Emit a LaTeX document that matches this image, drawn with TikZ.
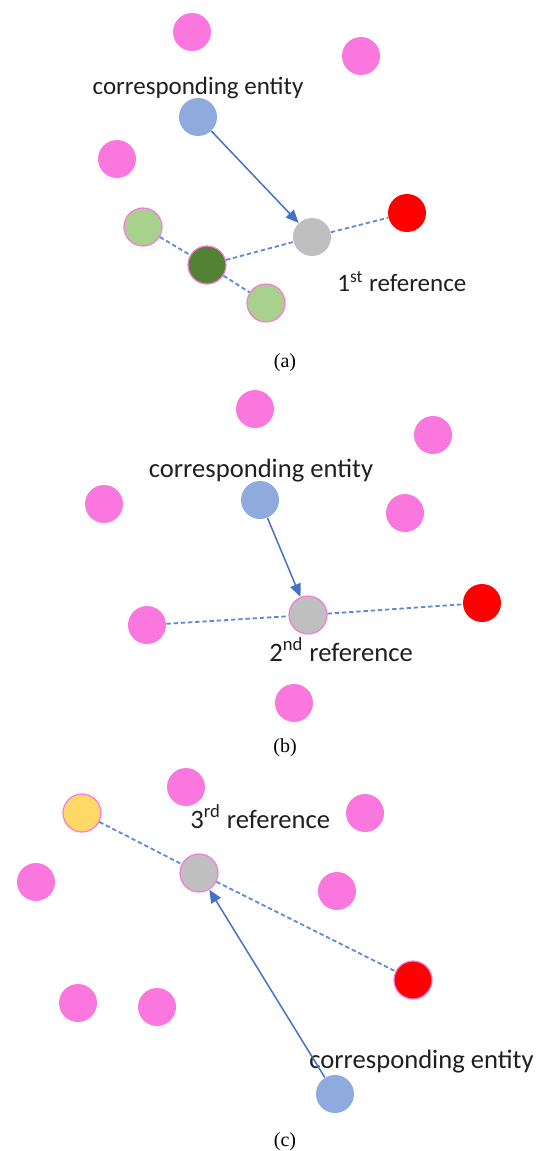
\documentclass[tikz,border=0pt]{standalone}
\usepackage{fontspec}
\setmainfont{Liberation Serif}
\newfontfamily\lblfont{Carlito}
\usepackage{tikz}
\usetikzlibrary{arrows.meta,positioning}
\definecolor{dotpink}{RGB}{250,120,222}
\definecolor{dotblue}{RGB}{143,170,220}
\definecolor{dotgray}{RGB}{191,191,191}
\definecolor{dotred}{RGB}{255,0,0}
\definecolor{dotlgreen}{RGB}{169,209,142}
\definecolor{dotdgreen}{RGB}{84,130,53}
\definecolor{dotyellow}{RGB}{255,217,102}
\definecolor{arrblue}{RGB}{68,114,196}
\definecolor{dashblue}{RGB}{91,139,214}
\tikzset{
  dot/.style={circle,inner sep=0pt,minimum size=19pt},
  ring/.style={draw=dotpink,line width=0.6pt},
  lbl/.style={font=\lblfont\fontsize{13.3}{15}\selectfont,text=black!88,inner sep=0pt},
  lbla/.style={lbl,font=\lblfont\fontsize{12.5}{14}\selectfont},
  subcap/.style={font=\fontsize{10}{12}\selectfont,inner sep=0pt},
  arr/.style={-{Triangle[length=6.5pt,width=5.5pt]},draw=arrblue,line width=0.75pt},
  arrd/.style={draw=dashblue,line width=0.9pt,dash pattern=on 2.2pt off 1.4pt}
}
\begin{document}
\begin{tikzpicture}[x=0.5pt,y=-0.5pt]
  \useasboundingbox (0,0) rectangle (542,1151);
  %% (a) first reference
  \node[dot,fill=dotpink] (aN1) at (192,32) {};
  \node[dot,fill=dotpink] (aN2) at (361,56) {};
  \node[dot,fill=dotpink] (aN3) at (117,159) {};
  \node[dot,fill=dotblue] (aE) at (198,117) {};
  \node[dot,fill=dotgray] (aR) at (312,237) {};
  \node[dot,fill=dotred] (aT) at (407,213) {};
  \node[dot,fill=dotlgreen,ring] (aL1) at (143,227) {};
  \node[dot,fill=dotdgreen,ring] (aD) at (207,265) {};
  \node[dot,fill=dotlgreen,ring] (aL2) at (266,303) {};
  \node[lbla,anchor=base] (aEtxt) at (198,94) {corresponding entity};
  \node[lbla,anchor=base west] (aRtxt) at (337,291) {1\textsuperscript{st} reference};
  \draw[arr](aE)--(aR);
  \draw[arrd](aL1)--(aD);\draw[arrd](aD)--(aL2);
  \draw[arrd](aD)--(aR);\draw[arrd](aR)--(aT);
  \node[subcap,anchor=base] (capA) at (285,367) {(a)};

  %% (b) second reference
  \node[dot,fill=dotpink] (bN1) at (255,409) {};
  \node[dot,fill=dotpink] (bN2) at (433,435) {};
  \node[dot,fill=dotpink] (bN3) at (104,504) {};
  \node[dot,fill=dotpink] (bN4) at (405,513) {};
  \node[dot,fill=dotpink] (bN5) at (147,625) {};
  \node[dot,fill=dotpink] (bN6) at (294,703) {};
  \node[dot,fill=dotblue] (bE) at (260,500) {};
  \node[dot,fill=dotgray,ring] (bR) at (308,615) {};
  \node[dot,fill=dotred] (bT) at (482,603) {};
  \node[lbl,anchor=base] (bEtxt) at (261,477) {corresponding entity};
  \node[lbl,anchor=base west] (bRtxt) at (269,661) {2\textsuperscript{nd} reference};
  \draw[arr](bE)--(bR);
  \draw[arrd](bN5)--(bR);\draw[arrd](bR)--(bT);
  \node[subcap,anchor=base] (capB) at (285,752) {(b)};

  %% (c) third reference
  \node[dot,fill=dotpink] (cN1) at (186,787) {};
  \node[dot,fill=dotpink] (cN2) at (365,813) {};
  \node[dot,fill=dotpink] (cN3) at (36,882) {};
  \node[dot,fill=dotpink] (cN4) at (337,891) {};
  \node[dot,fill=dotpink] (cN5) at (78,1003) {};
  \node[dot,fill=dotpink] (cN6) at (157,1007) {};
  \node[dot,fill=dotyellow,ring] (cY) at (82,813) {};
  \node[dot,fill=dotgray,ring] (cR) at (199,873) {};
  \node[dot,fill=dotred,ring] (cT) at (413,980) {};
  \node[dot,fill=dotblue] (cE) at (335,1094) {};
  \node[lbl,anchor=base west] (cRtxt) at (190,828) {3\textsuperscript{rd} reference};
  \node[lbl,anchor=base west] (cEtxt) at (309,1068) {corresponding entity};
  \draw[arr](cE)--(cR);
  \draw[arrd](cY)--(cR);\draw[arrd](cR)--(cT);
  \node[subcap,anchor=base] (capC) at (285,1146) {(c)};
\end{tikzpicture}
\end{document}
